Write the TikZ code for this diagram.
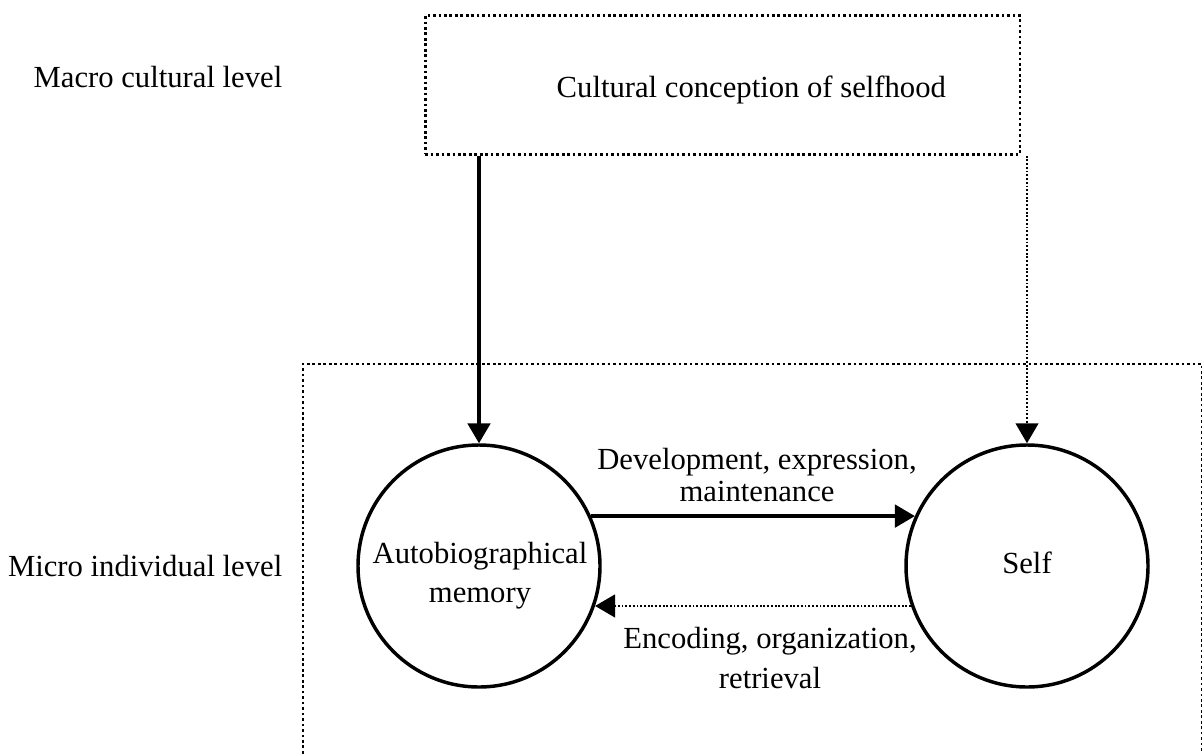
\documentclass[tikz,border=0pt]{standalone}
\usepackage{fontspec}
\setmainfont{Liberation Serif}
\usetikzlibrary{arrows.meta}
\def\bigtext{\fontsize{23}{24}\selectfont}

\begin{document}
\begin{tikzpicture}[x=0.75pt, y=-0.75pt,
	dotframe/.style={line width=2pt, dash pattern=on 2pt off 2.1pt},
	thinframe/.style={line width=1.8pt, dash pattern=on 1.4pt off 1.4pt},
	ring/.style={circle, draw, line width=2.6pt, minimum size=181.5pt},
	tip/.style={-{Triangle[length=15pt, width=17pt]}},
	label/.style={font=\bigtext, align=center}]
			%%%%% START %%%%%
			\useasboundingbox (0, 0) rectangle (1202, 753);
			
			\node[dotframe, draw, minimum width=446pt, minimum height=104pt] (culture) at (722.5, 85) {};
			\node[label, anchor=base west] (culturetext) at (552, 97) {Cultural conception of selfhood};
			
			\node[ring] (memory) at (479, 566) {};
			\node[ring] (self) at (1027, 566) {};
			\node[label, anchor=base] (memtext) at (480, 602) {Autobiographical\\[5pt]memory};
			\node[label] (selftext) at (1027, 563) {Self};
			
			\draw[dotframe] (303, 770) |- (1202, 364) -- (1202, 770);
			
			\node[label, anchor=base east] (macro) at (287, 87) {Macro cultural level};
			\node[label, anchor=base east] (micro) at (287, 576) {Micro individual level};
			
			\draw[tip, line width=2.4pt] (culture.south -| memory.north) -- (memory.north);
			\draw[tip, thinframe] (culture.south -| self.north) -- (self.north);
			
			\draw[tip, line width=2.4pt] (memory.24) -- (self.156);
			\draw[tip, thinframe] (self.-161) -- (memory.-19);
			
			\node[label, anchor=base] (develop) at (757, 501) {Development, expression,\\maintenance};
			\node[label, anchor=base] (encode) at (770, 688) {Encoding, organization,\\[6pt]retrieval};
			
			%%%%% END %%%%%
		\end{tikzpicture}
\end{document}
